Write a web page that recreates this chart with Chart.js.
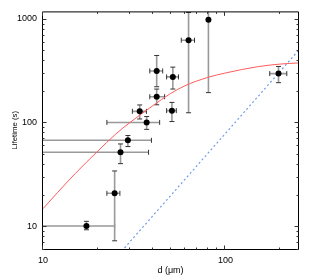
<!DOCTYPE html>
<html>
<head>
<meta charset="utf-8">
<script src="https://cdn.jsdelivr.net/npm/chart.js@4.4.1/dist/chart.umd.min.js"></script>
<style>
html,body{margin:0;padding:0;background:#fff;}
#wrap{width:315px;height:276px;}
</style>
</head>
<body>
<div id="wrap"><canvas id="c" width="315" height="276"></canvas></div>
<script>
// ---- data ----
const diameter = [17.3, 24.7, 26.6, 29.2, 37, 33.9, 42, 42, 50.9, 51.5, 62.8, 80.7, 195.5];
const lifetime = [10, 20.7, 51.5, 67.2, 100, 128, 177, 314, 130, 275, 622, 980, 296];
const diameterLow  = [8, 22.4, 8, 8, 22.4, 30.9, 38.5, 38.5, 47.6, 47.6, 57.3, null, 175];
const diameterHigh = [24.7, 26.4, 37.9, 39.3, 43.6, 36.9, 46.4, 45.3, 53.8, 55.3, 67.7, null, 217];
const lifetimeLow  = [9.2, 7.2, 40, 58.5, 85.7, 108, 148, 221, 102, 210, 124, 194, 242];
const lifetimeHigh = [11.1, 34, 62, 74.8, 114, 147.5, 210, 443, 156, 342, 1150, 1500, 347];
const fitCurveX = [10, 12, 15, 20, 25, 30, 40, 50, 60, 80, 100, 150, 200, 250];
const fitCurveY = [14.7, 21, 32, 53, 77, 100, 145, 190, 226, 272, 300, 345, 366, 375];
const limitLineX = [25, 250];
const limitLineY = [4.9, 489];
const xTickLabels = [10, 100];
const yTickLabels = [10, 100, 1000];

const FONT = '"Liberation Sans", Arial, Helvetica, sans-serif';

function isInt(v){ return Math.abs(v - Math.round(v)) < 1e-6; }
function mantissa(v){ const e = Math.floor(Math.log10(v) + 1e-9); return v / Math.pow(10, e); }

const errorBars = {
  id: 'errorBars',
  beforeDatasetsDraw(chart) {
    const {ctx, chartArea: a, scales: {x, y}} = chart;
    ctx.save();
    ctx.beginPath();
    ctx.rect(a.left, a.top, a.right - a.left, a.bottom - a.top);
    ctx.clip();
    const cap = 2.5;
    for (let i = 0; i < diameter.length; i++) {
      const px = x.getPixelForValue(diameter[i]);
      const py = y.getPixelForValue(lifetime[i]);
      if (diameterLow[i] != null) {
        const x0 = x.getPixelForValue(diameterLow[i]);
        const x1 = x.getPixelForValue(diameterHigh[i]);
        ctx.strokeStyle = '#999'; ctx.lineWidth = 1.6;
        ctx.beginPath(); ctx.moveTo(x0, py); ctx.lineTo(x1, py); ctx.stroke();
        ctx.strokeStyle = '#333'; ctx.lineWidth = 1;
        ctx.beginPath();
        ctx.moveTo(x0, py - cap); ctx.lineTo(x0, py + cap);
        ctx.moveTo(x1, py - cap); ctx.lineTo(x1, py + cap);
        ctx.stroke();
      }
      if (lifetimeLow[i] != null) {
        const y0 = y.getPixelForValue(lifetimeLow[i]);
        const y1 = y.getPixelForValue(lifetimeHigh[i]);
        ctx.strokeStyle = '#999'; ctx.lineWidth = 1.6;
        ctx.beginPath(); ctx.moveTo(px, y0); ctx.lineTo(px, y1); ctx.stroke();
        ctx.strokeStyle = '#333'; ctx.lineWidth = 1;
        ctx.beginPath();
        ctx.moveTo(px - cap, y0); ctx.lineTo(px + cap, y0);
        ctx.moveTo(px - cap, y1); ctx.lineTo(px + cap, y1);
        ctx.stroke();
      }
    }
    ctx.restore();
  }
};

const frameTicks = {
  id: 'frameTicks',
  afterDraw(chart) {
    const {ctx, chartArea: a, scales: {x, y}} = chart;
    const L = a.left - 0.5, R = a.right + 0.5, T = a.top + 0.5, B = a.bottom + 0.5;
    ctx.save();
    ctx.strokeStyle = '#000';
    ctx.lineWidth = 1;
    ctx.beginPath();
    ctx.rect(L, T, R - L, B - T);
    ctx.stroke();
    ctx.strokeStyle = '#333';
    ctx.beginPath();
    x.ticks.forEach(t => {
      const m = mantissa(t.value);
      if (!isInt(m)) return;
      const len = Math.round(m) === 1 ? 4 : 2;
      const px = Math.round(x.getPixelForValue(t.value)) - 0.5;
      ctx.moveTo(px, B); ctx.lineTo(px, B - len);
      ctx.moveTo(px, T); ctx.lineTo(px, T + len);
    });
    y.ticks.forEach(t => {
      const m = mantissa(t.value);
      if (!isInt(m)) return;
      const len = Math.round(m) === 1 ? 4 : 2;
      const py = Math.round(y.getPixelForValue(t.value)) + 0.5;
      ctx.moveTo(L, py); ctx.lineTo(L + len, py);
      ctx.moveTo(R, py); ctx.lineTo(R - len, py);
    });
    ctx.stroke();
    ctx.restore();
  }
};

new Chart(document.getElementById('c'), {
  type: 'scatter',
  data: {
    datasets: [
      {
        label: 'measured',
        data: diameter.map((d, i) => ({x: d, y: lifetime[i]})),
        backgroundColor: '#000', borderColor: '#000', borderWidth: 0,
        pointRadius: 3, pointHoverRadius: 3, order: 0
      },
      {
        label: 'fit',
        type: 'line',
        data: fitCurveX.map((d, i) => ({x: d, y: fitCurveY[i]})),
        borderColor: '#ff5c5c', borderWidth: 1, pointRadius: 0,
        cubicInterpolationMode: 'monotone', fill: false, order: 1
      },
      {
        label: 'limit',
        type: 'line',
        data: limitLineX.map((d, i) => ({x: d, y: limitLineY[i]})),
        borderColor: '#6f9be8', borderWidth: 1.2, borderDash: [2, 2.5], pointRadius: 0,
        fill: false, order: 2
      }
    ]
  },
  options: {
    responsive: false,
    animation: false,
    devicePixelRatio: 1,
    layout: {padding: {left: 0, right: 17, top: 10, bottom: 0}},
    plugins: {legend: {display: false}, tooltip: {enabled: false}},
    scales: {
      x: {
        type: 'logarithmic', min: 10, max: 250,
        grid: {display: false, drawTicks: false},
        border: {display: false},
        ticks: {
          autoSkip: false, maxRotation: 0, padding: 6, color: '#000',
          font: {family: FONT, size: 9},
          callback: v => xTickLabels.includes(v) ? String(v) : ''
        },
        title: {display: true, text: 'd (\u03bcm)', color: '#000',
                font: {family: FONT, size: 9}, padding: {top: 0.6, bottom: 0}},
        afterFit: s => { s.height = 27; }
      },
      y: {
        type: 'logarithmic', min: 6, max: 1180,
        grid: {display: false, drawTicks: false},
        border: {display: false},
        ticks: {
          autoSkip: false, padding: 6, color: '#000',
          font: {family: FONT, size: 9},
          callback: v => yTickLabels.includes(v) ? String(v) : ''
        },
        title: {display: true, text: 'Lifetime (s)', color: '#000',
                font: {family: FONT, size: 7.8}, padding: {top: 10.5, bottom: 0}},
        afterFit: s => { s.width = 43; }
      }
    }
  },
  plugins: [errorBars, frameTicks]
});
</script>
</body>
</html>
